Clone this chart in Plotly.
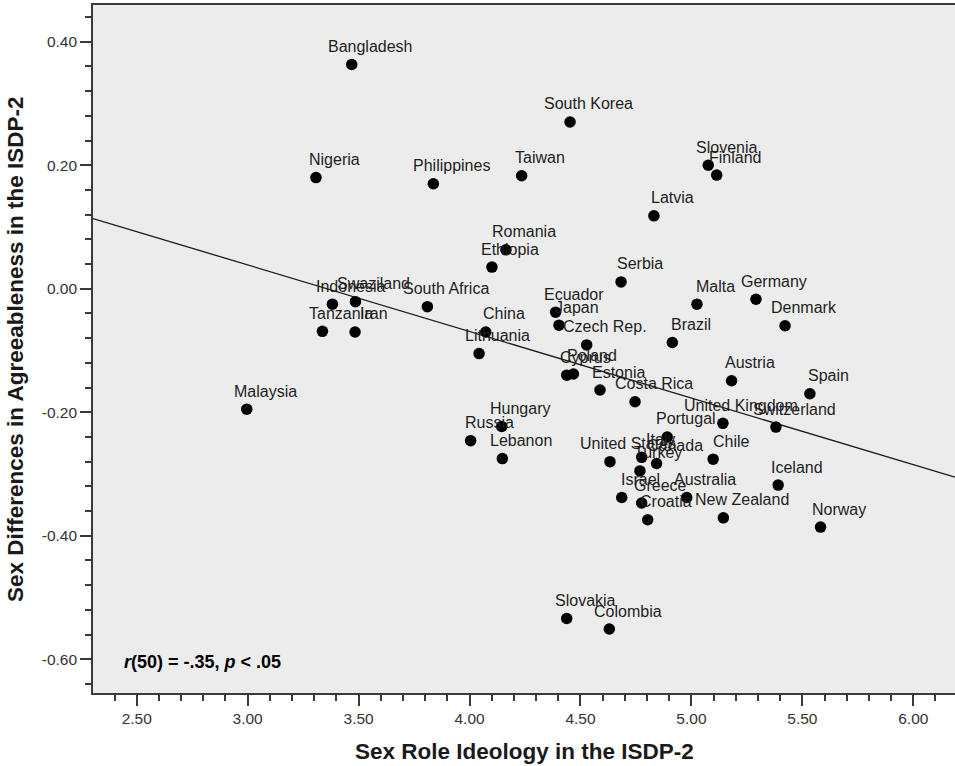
import numpy as np
import plotly.graph_objects as go

countries = ["Bangladesh", "South Korea", "Nigeria", "Philippines", "Taiwan", "Slovenia", "Finland",
             "Latvia", "Romania", "Ethiopia", "Serbia", "Malta", "Germany", "Denmark", "Swaziland",
             "Indonesia", "South Africa", "Tanzania", "Iran", "China", "Lithuania", "Ecuador", "Japan",
             "Czech Rep.", "Brazil", "Malaysia", "Cyprus", "Poland", "Estonia", "Costa Rica", "Austria",
             "Spain", "United Kingdom", "Switzerland", "Hungary", "Russia", "Lebanon", "Portugal",
             "Italy", "Canada", "Turkey", "United States", "Chile", "Israel", "Greece", "Australia",
             "Croatia", "New Zealand", "Iceland", "Norway", "Slovakia", "Colombia"]

sex_role_ideology = [3.469, 4.453, 3.308, 3.837, 4.235, 5.076, 5.114,
                     4.831, 4.164, 4.101, 4.683, 5.025, 5.291, 5.422, 3.486,
                     3.382, 3.810, 3.337, 3.484, 4.073, 4.043, 4.388, 4.403,
                     4.528, 4.914, 2.996, 4.438, 4.468, 4.588, 4.746, 5.181,
                     5.534, 5.142, 5.381, 4.145, 4.005, 4.148, 4.891,
                     4.776, 4.843, 4.768, 4.633, 5.098, 4.686, 4.776, 4.979,
                     4.803, 5.144, 5.391, 5.582, 4.438, 4.630]

agreeableness_diff = [0.363, 0.270, 0.180, 0.170, 0.183, 0.200, 0.184,
                      0.118, 0.063, 0.035, 0.011, -0.025, -0.017, -0.060, -0.021,
                      -0.025, -0.029, -0.069, -0.070, -0.070, -0.105, -0.038, -0.059,
                      -0.091, -0.087, -0.195, -0.140, -0.138, -0.164, -0.183, -0.149,
                      -0.170, -0.218, -0.224, -0.223, -0.246, -0.275, -0.240,
                      -0.273, -0.283, -0.295, -0.280, -0.276, -0.338, -0.347, -0.338,
                      -0.374, -0.371, -0.318, -0.386, -0.534, -0.551]

x_tick_vals = [2.5, 3.0, 3.5, 4.0, 4.5, 5.0, 5.5, 6.0]
x_tick_text = ["2.50", "3.00", "3.50", "4.00", "4.50", "5.00", "5.50", "6.00"]
y_tick_vals = [0.4, 0.2, 0.0, -0.2, -0.4, -0.6]
y_tick_text = ["0.40", "0.20", "0.00", "-0.20", "-0.40", "-0.60"]

x_title = "Sex Role Ideology in the ISDP-2"
y_title = "Sex Differences in Agreeableness in the ISDP-2"
stat_text = "<b><i>r</i>(50) = -.35, <i>p</i> &lt; .05</b>"

X_RANGE = [2.303, 6.188]
Y_RANGE = [-0.6546, 0.4594]

FONT = "Liberation Sans, Arial, Helvetica, sans-serif"
AXIS_COLOR = "#3a3a3a"

# least-squares fit line from the data
slope, intercept = np.polyfit(sex_role_ideology, agreeableness_diff, 1)
fit_x = np.array(X_RANGE)
fit_y = slope * fit_x + intercept

fig = go.Figure()

fig.add_trace(go.Scatter(
    x=fit_x, y=fit_y, mode="lines",
    line=dict(color="#1a1a1a", width=1.3),
    hoverinfo="skip", showlegend=False,
))

fig.add_trace(go.Scatter(
    x=sex_role_ideology, y=agreeableness_diff, mode="markers",
    marker=dict(size=11.5, color="black", line=dict(width=0)),
    text=countries, showlegend=False,
))

annotations = []
for name, xv, yv in zip(countries, sex_role_ideology, agreeableness_diff):
    annotations.append(dict(
        x=xv, y=yv, xref="x", yref="y", text=name, showarrow=False,
        xanchor="center", yanchor="middle", xshift=18.5, yshift=18,
        font=dict(family=FONT, size=16, color="#1e1e1e"),
    ))

annotations.append(dict(
    x=(121.7 - 93) / 862, y=(693 - 661.7) / 688, xref="paper", yref="paper",
    text=stat_text, showarrow=False, xanchor="left", yanchor="middle",
    font=dict(family=FONT, size=18, color="black"),
))
annotations.append(dict(
    x=0.5, y=(693 - 751.7) / 688, xref="paper", yref="paper",
    text="<b>" + x_title + "</b>", showarrow=False, xanchor="center", yanchor="middle",
    font=dict(family=FONT, size=22.5, color="#1a1a1a"),
))
annotations.append(dict(
    x=(15 - 93) / 862, y=0.5, xref="paper", yref="paper",
    text="<b>" + y_title + "</b>", showarrow=False, xanchor="center", yanchor="middle",
    textangle=-90,
    font=dict(family=FONT, size=22.5, color="#1a1a1a"),
))

fig.update_layout(
    width=955, height=766,
    margin=dict(l=93, r=0, t=5, b=73, pad=0),
    paper_bgcolor="white", plot_bgcolor="#ECECEC",
    annotations=annotations,
    font=dict(family=FONT),
)

fig.update_xaxes(
    range=X_RANGE, tickvals=x_tick_vals, ticktext=x_tick_text,
    showgrid=False, zeroline=False,
    showline=True, linecolor=AXIS_COLOR, linewidth=1.6, mirror=True,
    ticks="outside", ticklen=11, tickwidth=1.5, tickcolor=AXIS_COLOR,
    tickfont=dict(family=FONT, size=15.5, color="#333333"),
    minor=dict(ticks="outside", dtick=0.1, tick0=0, ticklen=6, tickwidth=1.5,
               tickcolor=AXIS_COLOR, showgrid=False),
)
fig.update_yaxes(
    range=Y_RANGE, tickvals=y_tick_vals, ticktext=y_tick_text,
    showgrid=False, zeroline=False,
    showline=True, linecolor=AXIS_COLOR, linewidth=1.6, mirror=False,
    ticks="outside", ticklen=11, tickwidth=1.5, tickcolor=AXIS_COLOR,
    tickfont=dict(family=FONT, size=15.5, color="#333333"),
    minor=dict(ticks="outside", dtick=0.04, tick0=0, ticklen=6, tickwidth=1.5,
               tickcolor=AXIS_COLOR, showgrid=False),
)

fig.write_html(
    "out.html",
    config={"displayModeBar": False},
    post_script="document.body.style.margin='0';document.body.style.overflow='hidden';",
)
